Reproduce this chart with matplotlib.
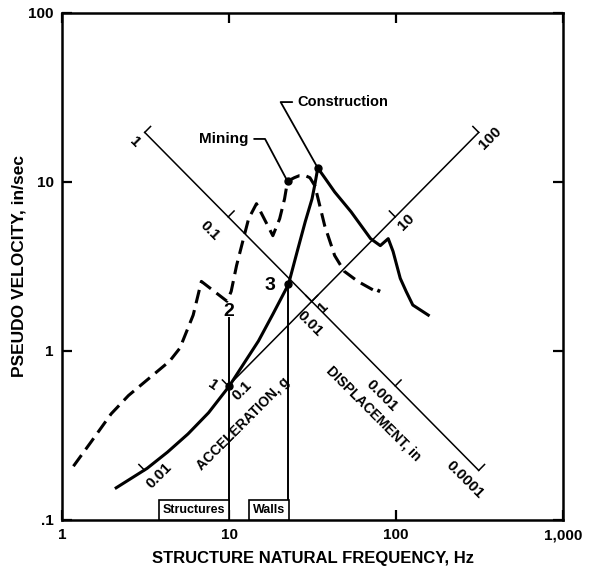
import numpy as np
import matplotlib.pyplot as plt

plt.rcParams['font.family'] = ['Liberation Sans', 'DejaVu Sans']
plt.rcParams['font.weight'] = 'bold'
plt.rcParams['axes.labelweight'] = 'bold'

G = 386.1  # in/s^2 per g

# construction blasting spectrum (solid), Hz / in/sec
cons_f = [2.11, 3.23, 4.28, 5.68, 7.54, 10.0, 12.2, 15.0, 18.3, 22.7, 25.6, 28.6,
          31.4, 32.7, 34.0, 37.9, 42.9, 53.8, 70.4, 80.5, 89.8, 96.0, 106, 115, 126, 156]
cons_v = [0.155, 0.202, 0.252, 0.323, 0.431, 0.617, 0.836, 1.145, 1.65, 2.48, 3.88, 5.82,
          7.94, 9.73, 12.1, 10.4, 8.73, 6.66, 4.62, 4.20, 4.62, 3.88, 2.69, 2.25, 1.87, 1.63]

# mining blasting spectrum (dashed)
mine_f = [1.17, 1.49, 1.97, 2.50, 3.32, 4.41, 5.08, 6.10, 6.83, 9.72, 10.3, 11.1, 12.2,
          13.1, 14.6, 18.3, 20.1, 21.5, 22.4, 24.6, 26.4, 28.6, 30.5, 32.7, 34.5, 37.4,
          42.9, 49.0, 59.1, 73.3, 77.5, 79.6]
mine_v = [0.208, 0.289, 0.425, 0.545, 0.689, 0.871, 1.04, 1.63, 2.58, 1.97, 2.25, 3.21, 4.62,
          6.06, 7.44, 4.81, 6.06, 7.94, 10.1, 10.6, 10.9, 10.9, 10.6, 9.47, 7.63, 5.51,
          3.67, 2.96, 2.58, 2.29, 2.19, 2.32]

# tripartite scales
disp_ticks = [1, 0.1, 0.01, 0.001, 0.0001]          # in, along the 1 g line
disp_labels = ['1', '0.1', '0.01', '0.001', '0.0001']
acc_ticks = [0.01, 0.1, 1, 10, 100]                 # g, along the 0.01 in line
acc_labels = ['0.01', '0.1', '1', '10', '100']
acc_line_start = 0.1

# marked points
pt_f = [10.0, 22.7]
pt_v = [0.617, 2.48]
struct_top = 1.56

xticks = [1, 10, 100, 1000]
xticklabels = ['1', '10', '100', '1,000']
yticks = [0.1, 1, 10, 100]
yticklabels = ['.1', '1', '10', '100']

fig = plt.figure(figsize=(5.97, 5.66), dpi=100)
ax = fig.add_axes([0.1039, 0.0813, 0.8392, 0.8958])
ax.set_xscale('log')
ax.set_yscale('log')
ax.set_xlim(1, 1000)
ax.set_ylim(0.1, 100)

# displacement axis: constant acceleration 1 g
def disp_point(d):
    f = np.sqrt(G / d) / (2 * np.pi)
    return f, G / (2 * np.pi * f)

# acceleration axis: constant displacement 0.01 in
def acc_point(a, d=0.01):
    f = np.sqrt(a * G / d) / (2 * np.pi)
    return f, 2 * np.pi * f * d

k = 10 ** 0.035
dl = [disp_point(d) for d in (disp_ticks[0], disp_ticks[-1])]
ax.plot([p[0] for p in dl], [p[1] for p in dl], color='black', lw=1.1)
for d in disp_ticks:
    f, v = disp_point(d)
    ax.plot([f, f * k], [v, v * k], color='black', lw=1.1)
disp_off = [(-7, -7), (-13, -10), (-1.5, -16), (-10, -7), (-10, -6.5)]
for d, lab, off in zip(disp_ticks, disp_labels, disp_off):
    ax.annotate(lab, disp_point(d), xytext=off, textcoords='offset points',
                rotation=-45, rotation_mode='anchor', ha='center', va='center',
                fontsize=11)

al = [acc_point(a) for a in (acc_line_start, acc_ticks[-1])]
ax.plot([p[0] for p in al], [p[1] for p in al], color='black', lw=1.1)
for a in acc_ticks:
    f, v = acc_point(a)
    ax.plot([f, f / k], [v, v * k], color='black', lw=1.1)
acc_off = [(10.5, -3.6), (9.8, -3.2), (8, -4), (7.6, -3.8), (8.6, -4.3)]
for a, lab, off in zip(acc_ticks, acc_labels, acc_off):
    ax.annotate(lab, acc_point(a), xytext=off, textcoords='offset points',
                rotation=45, rotation_mode='anchor', ha='center', va='center',
                fontsize=11)

ax.text(73.4, 0.425, 'DISPLACEMENT, in', rotation=-45, rotation_mode='anchor',
        ha='center', va='center', fontsize=10)
ax.text(12.2, 0.371, 'ACCELERATION, g', rotation=45, rotation_mode='anchor',
        ha='center', va='center', fontsize=10)

# spectra
ax.plot(cons_f, cons_v, color='black', lw=2.2, solid_joinstyle='round')
ax.plot(mine_f, mine_v, color='black', lw=2.2, dashes=[4.5, 2.3])

# vertical lines and points
ax.plot([pt_f[0], pt_f[0]], [0.1, struct_top], color='black', lw=1.4)
ax.plot([pt_f[1], pt_f[1]], [0.1, pt_v[1]], color='black', lw=1.4)
ax.plot(pt_f, pt_v, 'o', color='black', ms=5)
ax.text(7.98, 0.626, '1', rotation=-35, ha='center', va='center', fontsize=11)
ax.text(10.0, 1.72, '2', ha='center', va='center', fontsize=14)
ax.text(17.6, 2.44, '3', ha='center', va='center', fontsize=14)

for lab, f in (('Structures', pt_f[0]), ('Walls', pt_f[1])):
    ax.annotate(lab, (f, 0.1), xytext=(-2.6, 2.8), textcoords='offset points',
                ha='right', va='bottom', fontsize=9, zorder=5,
                bbox=dict(boxstyle='square,pad=0.3', fc='white', ec='black', lw=1.2))

# annotations with leader lines
mdot = (mine_f[18], mine_v[18])
cdot = (cons_f[14], cons_v[14])
ax.plot(*mdot, 'o', color='black', ms=5)
ax.plot(*cdot, 'o', color='black', ms=5)
ax.annotate('Mining', mdot, xytext=(9.31, 17.97), ha='center', va='center', fontsize=11,
            arrowprops=dict(arrowstyle='-', lw=1.3, shrinkB=0,
                            connectionstyle='angle,angleA=0,angleB=-62,rad=0'))
ax.annotate('Construction', cdot, xytext=(48.3, 29.7), ha='center', va='center', fontsize=10.5,
            arrowprops=dict(arrowstyle='-', lw=1.3, shrinkB=0,
                            connectionstyle='angle,angleA=0,angleB=-60.6,rad=0'))

# frame and ticks
for s in ax.spines.values():
    s.set_linewidth(1.8)
ax.set_xticks(xticks)
ax.set_xticklabels(xticklabels)
ax.set_yticks(yticks)
ax.set_yticklabels(yticklabels)
ax.minorticks_off()
ax.tick_params(which='major', direction='in', length=7, width=1.6, top=True, right=True,
               labelsize=11, pad=6)
ax.set_xlabel('STRUCTURE NATURAL FREQUENCY, Hz', fontsize=12, labelpad=6)
ax.set_ylabel('PSEUDO VELOCITY, in/sec', fontsize=12.5, labelpad=1)

fig.savefig('out.png', dpi=100)
